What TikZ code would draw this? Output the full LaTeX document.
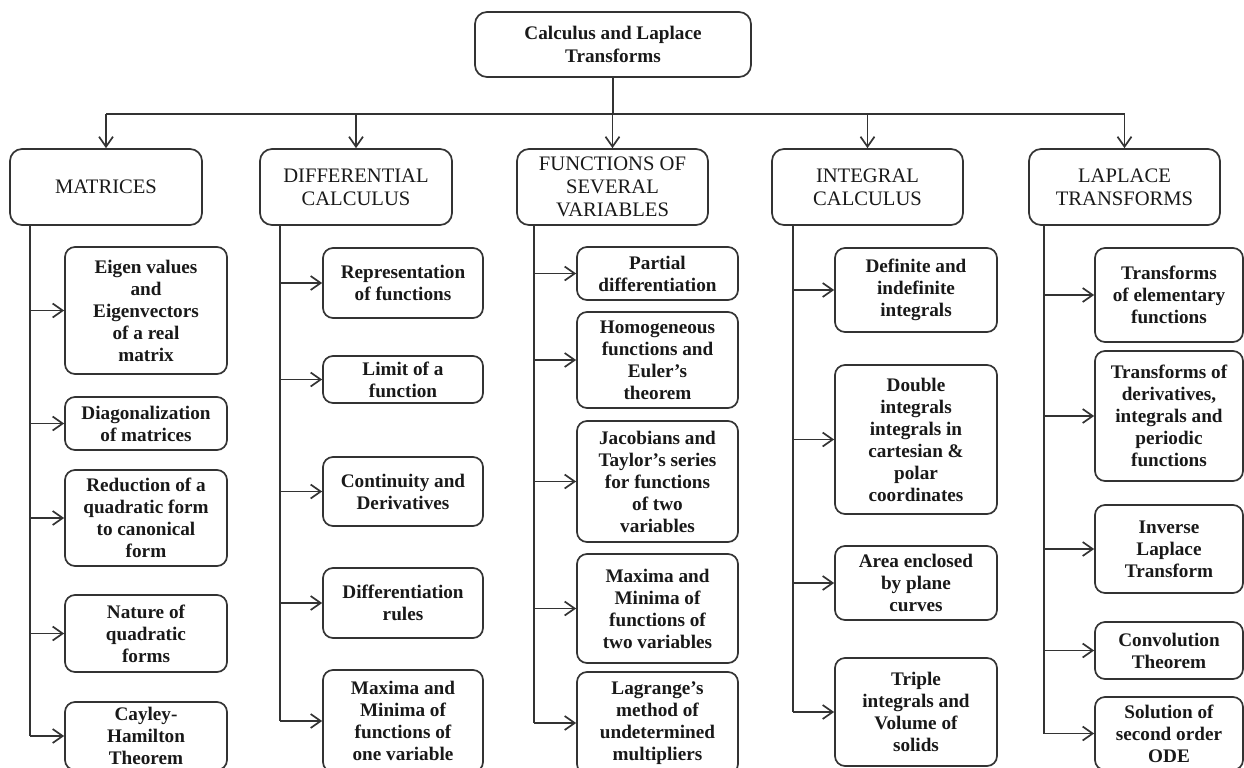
\documentclass[tikz,border=0pt]{standalone}
\usepackage{fontspec}
\setmainfont{Liberation Serif}
\usetikzlibrary{arrows.meta}
\begin{document}
\begin{tikzpicture}[x=0.5pt,y=-0.5pt,
  % a box given by its corners (left,top) and (right,bottom)
  span/.style args={#1/#2/#3/#4}{at={({(#1+#3)/2},{(#2+#4)/2})},
    minimum width={(#3-#1)*0.5pt}, minimum height={(#4-#2)*0.5pt}},
  box/.style={draw=black!80, line width=0.85pt, rounded corners=5pt, inner sep=0pt,
    align=center, text=black!90, anchor=center},
  head/.style={box, rounded corners=6pt, font=\fontsize{10.3}{11.5}\selectfont},
  item/.style={box, font=\fontsize{9.6}{11}\selectfont\bfseries},
  link/.style={draw=black!80, line width=0.85pt},
  arr/.style={link, -{Straight Barb[length=5pt,width=7pt]}}]
\useasboundingbox (0,0) rectangle (1244,767);
\clip (0,0) rectangle (1244,767);

% root
\node[box, rounded corners=6pt, font=\fontsize{9.6}{11.5}\selectfont\bfseries,
  span=475/12/751/77] (root) {Calculus and Laplace\\Transforms};

% main topics
\node[head, span=10/149/202/225]   (mat) {MATRICES};
\node[head, span=260/149/452/225]  (dif) {DIFFERENTIAL\\CALCULUS};
\node[head, span=517/149/708/225]  (fun) {FUNCTIONS OF\\SEVERAL\\VARIABLES};
\node[head, span=772/149/963/225]  (int) {INTEGRAL\\CALCULUS};
\node[head, span=1029/149/1220/225] (lap) {LAPLACE\\TRANSFORMS};

% matrices
\node[item, span=65/247/227/374] (m1) {Eigen values\\and\\Eigenvectors\\of a real\\matrix};
\node[item, span=65/397/227/450] (m2) {Diagonalization\\of matrices};
\node[item, span=65/470/227/566] (m3) {Reduction of a\\quadratic form\\to canonical\\form};
\node[item, span=65/595/227/672] (m4) {Nature of\\quadratic\\forms};
\node[item, span=65/702/227/770] (m5) {Cayley-\\Hamilton\\Theorem};

% differential calculus
\node[item, span=323/248/483/318] (d1) {Representation\\of functions};
\node[item, span=323/356/483/403] (d2) {Limit of a\\function};
\node[item, span=323/457/483/526] (d3) {Continuity and\\Derivatives};
\node[item, span=323/568/483/638] (d4) {Differentiation\\rules};
\node[item, span=323/670/483/772] (d5) {Maxima and\\Minima of\\functions of\\one variable};

% functions of several variables
\node[item, span=577/247/738/300] (f1) {Partial\\differentiation};
\node[item, span=577/312/738/408] (f2) {Homogeneous\\functions and\\Euler’s\\theorem};
\node[item, span=577/421/738/542] (f3) {Jacobians and\\Taylor’s series\\for functions\\of two\\variables};
\node[item, span=577/554/738/663] (f4) {Maxima and\\Minima of\\functions of\\two variables};
\node[item, span=577/672/738/774] (f5) {Lagrange’s\\method of\\undetermined\\multipliers};

% integral calculus
\node[item, span=835/248/997/332] (i1) {Definite and\\indefinite\\integrals};
\node[item, span=835/365/997/514] (i2) {Double\\integrals\\integrals in\\cartesian \&\\polar\\coordinates};
\node[item, span=835/546/997/620] (i3) {Area enclosed\\by plane\\curves};
\node[item, span=835/658/997/766] (i4) {Triple\\integrals and\\Volume of\\solids};

% laplace transforms
\node[item, span=1095/248/1243/342] (l1) {Transforms\\of elementary\\functions};
\node[item, span=1095/351/1243/481] (l2) {Transforms of\\derivatives,\\integrals and\\periodic\\functions};
\node[item, span=1095/505/1243/593] (l3) {Inverse\\Laplace\\Transform};
\node[item, span=1095/622/1243/679] (l4) {Convolution\\Theorem};
\node[item, span=1095/697/1243/770] (l5) {Solution of\\second order\\ODE};

% bus from the root to the topics
\coordinate (bus) at ([yshift=-18pt]root.south);
\draw[link] (root.south) -- (bus);
\draw[link] (mat.north |- bus) -- (lap.north |- bus);
\foreach \n in {mat,dif,fun,int,lap}
  \draw[arr] (\n.north |- bus) -- (\n.north);

% trunks under each topic
\coordinate (tm) at ([xshift=10.5pt]mat.south west);
\coordinate (td) at ([xshift=10.5pt]dif.south west);
\coordinate (tf) at ([xshift=9pt]fun.south west);
\coordinate (ti) at ([xshift=11pt]int.south west);
\coordinate (tl) at ([xshift=8pt]lap.south west);

\draw[link] (tm) -- (tm |- m5.west);
\draw[link] (td) -- (td |- d5.west);
\draw[link] (tf) -- (tf |- f5.west);
\draw[link] (ti) -- (ti |- i4.west);
\draw[link] (tl) -- (tl |- l5.west);

\foreach \n in {m1,m2,m3,m4,m5} \draw[arr] (tm |- \n.west) -- (\n.west);
\foreach \n in {d1,d2,d3,d4,d5} \draw[arr] (td |- \n.west) -- (\n.west);
\foreach \n in {f1,f2,f3,f4,f5} \draw[arr] (tf |- \n.west) -- (\n.west);
\foreach \n in {i1,i2,i3,i4}    \draw[arr] (ti |- \n.west) -- (\n.west);
\foreach \n in {l1,l2,l3,l4,l5} \draw[arr] (tl |- \n.west) -- (\n.west);
\end{tikzpicture}
\end{document}
